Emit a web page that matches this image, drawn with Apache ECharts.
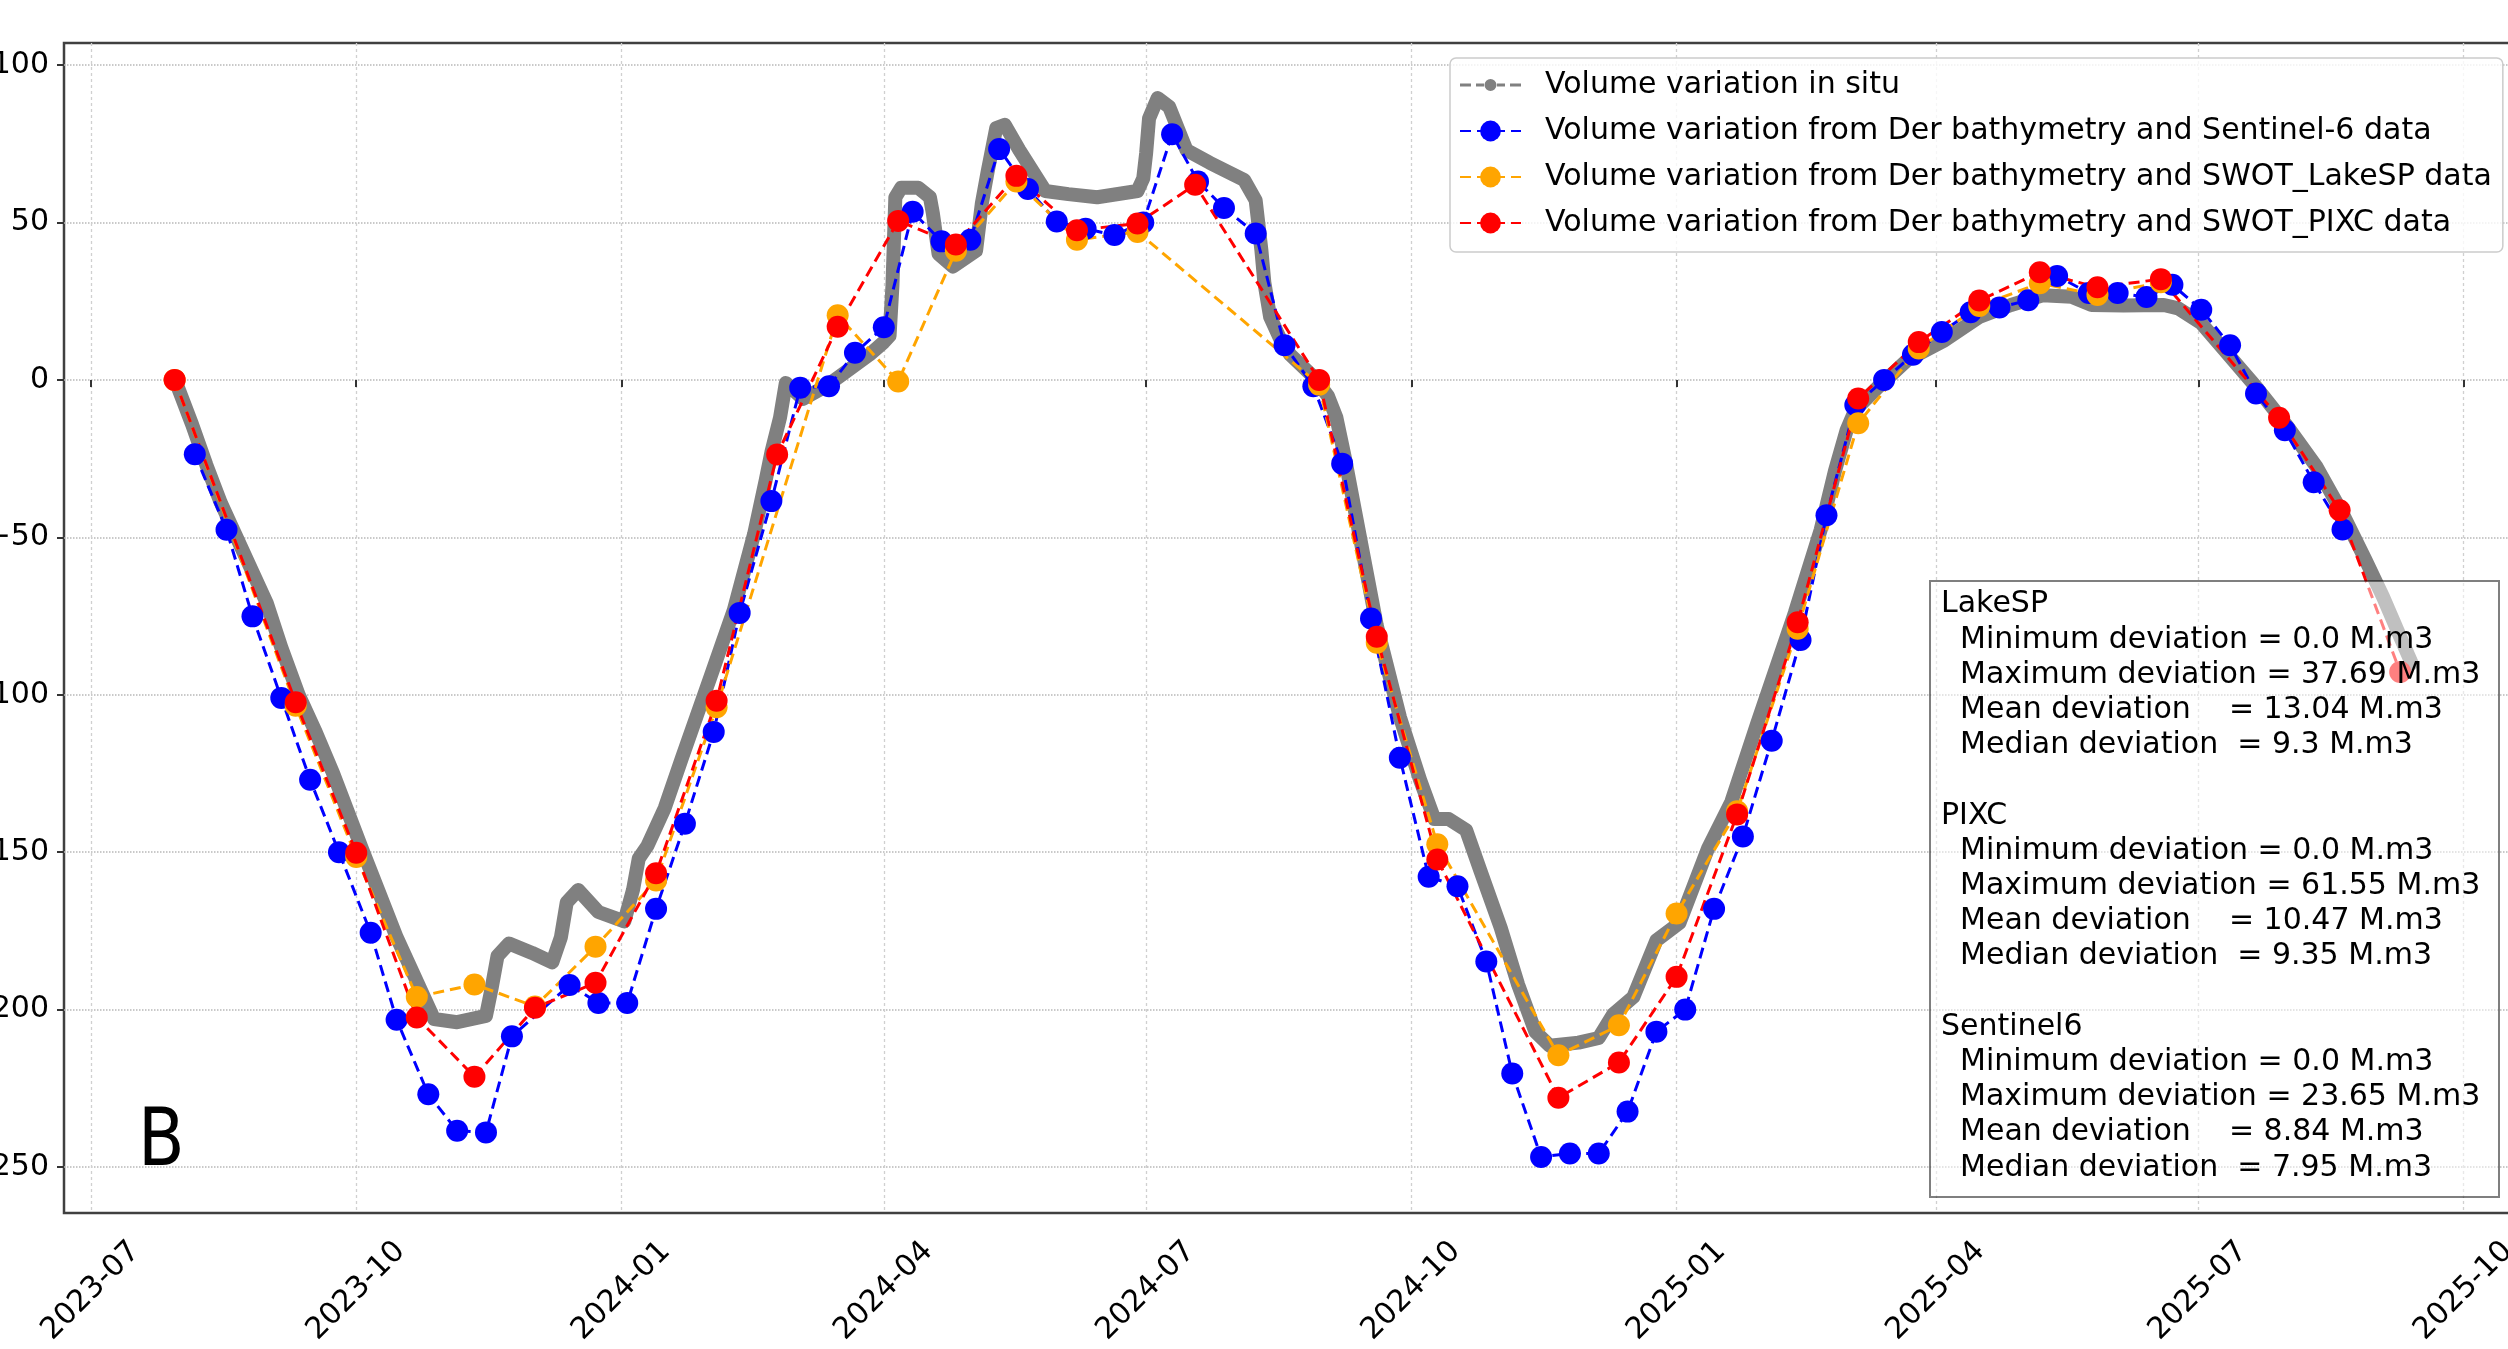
<!DOCTYPE html>
<html>
<head>
<meta charset="utf-8">
<title>Volume variation</title>
<script src="https://cdn.jsdelivr.net/npm/echarts@6/dist/echarts.min.js"></script>
<style>
html, body { margin: 0; padding: 0; background: #fff; }
#chart { width: 2508px; height: 1349px; }
</style>
</head>
<body>
<div id="chart"></div>
<script>
// series names
const insituName = 'Volume variation in situ'
const s6Name = 'Volume variation from Der bathymetry and Sentinel-6 data'
const lakeName = 'Volume variation from Der bathymetry and SWOT_LakeSP data'
const pixcName = 'Volume variation from Der bathymetry and SWOT_PIXC data'

// in situ volume variation (M.m3)
const insituDates = [
  '2023-07-31', '2023-08-05', '2023-08-10', '2023-08-15', '2023-08-20', '2023-08-25', '2023-08-31',
  '2023-09-05', '2023-09-11', '2023-09-17', '2023-09-23', '2023-09-28', '2023-10-03', '2023-10-09',
  '2023-10-15', '2023-10-20', '2023-10-24', '2023-10-28', '2023-11-05', '2023-11-15', '2023-11-17',
  '2023-11-19', '2023-11-23', '2023-12-01', '2023-12-08', '2023-12-11', '2023-12-13', '2023-12-17',
  '2023-12-24', '2024-01-02', '2024-01-05', '2024-01-07', '2024-01-10', '2024-01-16', '2024-01-22',
  '2024-01-27', '2024-02-01', '2024-02-09', '2024-02-16', '2024-02-20', '2024-02-22', '2024-02-25',
  '2024-02-27', '2024-03-04', '2024-03-12', '2024-03-18', '2024-03-27', '2024-04-01', '2024-04-03',
  '2024-04-04', '2024-04-05', '2024-04-07', '2024-04-13', '2024-04-17', '2024-04-18', '2024-04-20',
  '2024-04-25', '2024-05-03', '2024-05-05', '2024-05-07', '2024-05-10', '2024-05-13', '2024-05-18',
  '2024-05-27', '2024-06-04', '2024-06-14', '2024-06-28', '2024-06-30', '2024-07-01', '2024-07-02',
  '2024-07-05', '2024-07-09', '2024-07-15', '2024-07-23', '2024-08-04', '2024-08-08', '2024-08-10',
  '2024-08-11', '2024-08-13', '2024-08-17', '2024-08-20', '2024-08-28', '2024-09-02', '2024-09-05',
  '2024-09-08', '2024-09-14', '2024-09-19', '2024-09-27', '2024-10-04', '2024-10-09', '2024-10-14',
  '2024-10-20', '2024-10-25', '2024-11-01', '2024-11-07', '2024-11-13', '2024-11-18', '2024-11-28',
  '2024-12-05', '2024-12-10', '2024-12-17', '2024-12-25', '2025-01-02', '2025-01-12', '2025-01-20',
  '2025-01-29', '2025-02-11', '2025-02-20', '2025-02-25', '2025-03-01', '2025-03-04', '2025-03-12',
  '2025-03-22', '2025-04-04', '2025-04-16', '2025-04-27', '2025-05-08', '2025-05-18', '2025-05-25',
  '2025-06-05', '2025-06-19', '2025-06-24', '2025-07-02', '2025-07-10', '2025-07-21', '2025-08-01',
  '2025-08-11', '2025-08-20', '2025-08-28', '2025-09-03', '2025-09-09', '2025-09-13'
]
const insituValues = [
  -2, -14, -27, -39, -49, -59, -71,
  -85, -100, -112, -125, -137, -149, -163,
  -177, -187, -195, -203, -204, -202, -193,
  -183, -179, -182, -185, -177, -166, -162,
  -169, -172, -162, -152, -148, -136, -120,
  -107, -94, -73, -49, -32, -23, -12,
  -1, -6, -2, 2, 8, 12, 14,
  30, 58, 61, 61, 58, 53, 40,
  36, 41, 56, 66, 80, 81, 73,
  60, 59, 58, 60, 64, 72, 83,
  89.5, 86.7, 73, 69, 63.5, 57, 41,
  31, 20, 12, 8, 1, -5, -12,
  -25, -54, -78, -107, -127, -139.5, -139.5,
  -143, -156, -174, -192, -207, -211.5, -210.5,
  -209, -201.5, -196, -178, -172.5, -148.6, -134,
  -109, -74, -47.6, -28.7, -15.9, -9.5, -2.2,
  6.3, 12.6, 20, 23.8, 26.9, 26.4, 23.8,
  23.6, 23.8, 22.7, 18, 9.5, -2.2, -14.9,
  -27.6, -42.4, -57.2, -68.8, -81.6, -90
]

// Sentinel-6
const s6Dates = [
  '2023-08-06', '2023-08-17', '2023-08-26', '2023-09-05', '2023-09-15', '2023-09-25', '2023-10-06',
  '2023-10-15', '2023-10-26', '2023-11-05', '2023-11-15', '2023-11-24', '2023-12-14', '2023-12-24',
  '2024-01-03', '2024-01-13', '2024-01-23', '2024-02-02', '2024-02-11', '2024-02-22', '2024-03-03',
  '2024-03-13', '2024-03-22', '2024-04-01', '2024-04-11', '2024-04-21', '2024-05-01', '2024-05-11',
  '2024-05-21', '2024-05-31', '2024-06-10', '2024-06-20', '2024-06-30', '2024-07-10', '2024-07-19',
  '2024-07-28', '2024-08-08', '2024-08-18', '2024-08-28', '2024-09-07', '2024-09-17', '2024-09-27',
  '2024-10-07', '2024-10-17', '2024-10-27', '2024-11-05', '2024-11-15', '2024-11-25', '2024-12-05',
  '2024-12-15', '2024-12-25', '2025-01-04', '2025-01-14', '2025-01-24', '2025-02-03', '2025-02-13',
  '2025-02-22', '2025-03-04', '2025-03-14', '2025-03-24', '2025-04-03', '2025-04-13', '2025-04-23',
  '2025-05-03', '2025-05-13', '2025-05-24', '2025-06-03', '2025-06-13', '2025-06-22', '2025-07-02',
  '2025-07-12', '2025-07-21', '2025-07-31', '2025-08-10', '2025-08-20'
]
const s6Values = [
  -23.6, -47.6, -75.1, -101, -127, -150, -175.6,
  -203.2, -226.9, -238.5, -239, -208.5, -192.2, -197.9,
  -197.9, -168, -141, -111.8, -74, -38.5, -2.5,
  -2, 8.6, 16.7, 53.4, 44, 44.5, 73.3,
  60.6, 50.3, 48, 46, 50, 78, 63,
  54.6, 46.5, 11, -2, -26.6, -75.8, -120,
  -157.8, -160.8, -184.7, -220.3, -246.8, -245.7, -245.7,
  -232.4, -207, -200, -168, -145, -114.6, -82.6,
  -43, -8, 0, 8, 15.2, 21.5, 23,
  25.3, 33, 27.6, 27.6, 26.3, 30.2, 22.3,
  11, -4.3, -16, -32.5, -47.5
]

// SWOT LakeSP
const lakeDates = [
  '2023-07-30', '2023-09-10', '2023-10-01', '2023-10-22', '2023-11-11', '2023-12-02', '2023-12-23',
  '2024-01-13', '2024-02-03', '2024-03-16', '2024-04-06', '2024-04-26', '2024-05-17', '2024-06-07',
  '2024-06-28', '2024-08-30', '2024-09-19', '2024-10-10', '2024-11-21', '2024-12-12', '2025-01-01',
  '2025-01-22', '2025-02-12', '2025-03-05', '2025-03-26', '2025-04-16', '2025-05-07', '2025-05-27',
  '2025-06-18'
]
const lakeValues = [
  0, -103.5, -151.5, -196, -192, -199, -180,
  -159, -104, 20.5, -0.5, 41, 63, 44.5,
  47, -1.5, -83.5, -147.5, -214.5, -205, -169.5,
  -137, -79, -13.8, 10, 23.5, 30.7, 27,
  31
]

// SWOT PIXC
const pixcDates = [
  '2023-07-30', '2023-09-10', '2023-10-01', '2023-10-22', '2023-11-11', '2023-12-02', '2023-12-23',
  '2024-01-13', '2024-02-03', '2024-02-24', '2024-03-16', '2024-04-06', '2024-04-26', '2024-05-17',
  '2024-06-07', '2024-06-28', '2024-07-18', '2024-08-30', '2024-09-19', '2024-10-10', '2024-11-21',
  '2024-12-12', '2025-01-01', '2025-01-22', '2025-02-12', '2025-03-05', '2025-03-26', '2025-04-16',
  '2025-05-07', '2025-05-27', '2025-06-18', '2025-07-29', '2025-08-19', '2025-09-09'
]
const pixcValues = [
  0, -102.4, -150.2, -202.5, -221.3, -199.4, -191.5,
  -156.7, -101.9, -23.7, 16.9, 50.5, 43, 64.8,
  47.5, 49.7, 62, 0, -81.6, -152.3, -228,
  -216.8, -189.6, -138, -77, -5.9, 12, 25.2,
  34.2, 29.4, 32, -12, -41.4, -92.8
]

// axes
const xTickLabels = ['2023-07', '2023-10', '2024-01', '2024-04', '2024-07', '2024-10', '2025-01', '2025-04', '2025-07', '2025-10']
const yTickValues = [-250, -200, -150, -100, -50, 0, 50, 100]

// deviation statistics box
const statsLines = [
  'LakeSP',
  '  Minimum deviation = 0.0 M.m3',
  '  Maximum deviation = 37.69 M.m3',
  '  Mean deviation    = 13.04 M.m3',
  '  Median deviation  = 9.3 M.m3',
  '',
  'PIXC',
  '  Minimum deviation = 0.0 M.m3',
  '  Maximum deviation = 61.55 M.m3',
  '  Mean deviation    = 10.47 M.m3',
  '  Median deviation  = 9.35 M.m3',
  '',
  'Sentinel6',
  '  Minimum deviation = 0.0 M.m3',
  '  Maximum deviation = 23.65 M.m3',
  '  Mean deviation    = 8.84 M.m3',
  '  Median deviation  = 7.95 M.m3'
]

const FONT = 'DejaVu Sans'
const toTime = (s) => echarts.time.parse(s)
const zip = (d, v) => d.map((x, i) => [toTime(x), v[i]])
const xTickValues = xTickLabels.map(l => toTime(l + '-01'))

const dashed = (color) => ({
  type: 'line',
  symbol: 'circle',
  symbolSize: 22,
  showAllSymbol: true,
  itemStyle: { color: color },
  lineStyle: { color: color, width: 3, type: [11, 6] },
  emphasis: { disabled: true }
})

const chart = echarts.init(document.getElementById('chart'), null, { renderer: 'canvas' })

chart.setOption({
  animation: false,
  textStyle: { fontFamily: FONT },
  grid: {
    left: 64,
    top: 43,
    width: 2448,
    height: 1170,
    outerBoundsMode: 'none',
    containLabel: false,
    show: true,
    borderColor: '#404040',
    borderWidth: 2.5
  },
  legend: {
    orient: 'vertical',
    left: 1450,
    top: 58,
    padding: [12, 11, 14, 9],
    itemWidth: 61,
    itemHeight: 26,
    itemGap: 16,
    backgroundColor: 'rgba(255,255,255,0.8)',
    borderColor: '#cccccc',
    borderWidth: 1.5,
    borderRadius: 6,
    z: 50,
    textStyle: { fontSize: 30, fontFamily: FONT, color: '#000', lineHeight: 26, padding: [0, 0, 0, 19] },
    data: [
      {
        name: insituName,
        icon: 'path://M0,0h0.01v0.01h-0.01z M60.99,25.99h0.01v0.01h-0.01z M0,11.5h11v3h-11z M16,11.5h8v3h-8z M37,11.5h8v3h-8z M50,11.5h11v3h-11z M24.5,13a6,6 0 1,0 12,0a6,6 0 1,0 -12,0z'
      },
      { name: s6Name },
      { name: lakeName },
      { name: pixcName }
    ]
  },
  xAxis: {
    type: 'value',
    min: toTime('2023-06-21T15:00:00'),
    max: toTime('2025-10-17T19:00:00'),
    axisLine: { show: false },
    axisTick: {
      show: true,
      customValues: xTickValues,
      length: 7,
      lineStyle: { color: '#333', width: 2 }
    },
    axisLabel: {
      customValues: xTickValues,
      formatter: (val) => echarts.time.format(val, '{yyyy}-{MM}', false),
      rotate: 45,
      align: 'center',
      verticalAlign: 'middle',
      margin: 78,
      fontSize: 30,
      fontFamily: FONT,
      color: '#000'
    },
    splitLine: {
      show: true,
      lineStyle: { color: '#d0d0d0', width: 1.3, type: [3, 3] }
    }
  },
  yAxis: {
    type: 'value',
    min: -264.6,
    max: 107,
    axisLine: { show: false },
    axisTick: {
      show: true,
      customValues: yTickValues,
      length: 7,
      lineStyle: { color: '#333', width: 2 }
    },
    axisLabel: {
      customValues: yTickValues,
      formatter: (v) => (v < 0 ? '\u2212' + Math.abs(v) : String(v)),
      margin: 15,
      fontSize: 30,
      fontFamily: FONT,
      color: '#000'
    },
    splitLine: {
      show: true,
      lineStyle: { color: '#b8b8b8', width: 1.5, type: 'dotted' }
    }
  },
  series: [
    {
      name: insituName,
      type: 'line',
      symbol: 'circle',
      showSymbol: false,
      itemStyle: { color: '#808080' },
      lineStyle: { color: '#808080', width: 14, cap: 'round', join: 'round' },
      emphasis: { disabled: true },
      data: zip(insituDates, insituValues)
    },
    Object.assign(dashed('#0000ff'), { name: s6Name, data: zip(s6Dates, s6Values) }),
    Object.assign(dashed('#ffa500'), { name: lakeName, data: zip(lakeDates, lakeValues) }),
    Object.assign(dashed('#ff0000'), { name: pixcName, data: zip(pixcDates, pixcValues) })
  ],
  graphic: [
    {
      type: 'text',
      x: 138,
      y: 1144,
      scaleX: 0.85,
      z: 60,
      style: {
        text: 'B',
        font: '80px "DejaVu Sans"',
        fill: '#000',
        verticalAlign: 'middle'
      }
    },
    {
      type: 'rect',
      z: 100,
      shape: { x: 1930, y: 581, width: 569, height: 616 },
      style: { fill: 'rgba(255,255,255,0.5)', stroke: 'rgba(0,0,0,0.5)', lineWidth: 2 }
    },
    {
      type: 'text',
      x: 1941,
      y: 587,
      z: 101,
      style: {
        text: statsLines.join('\n'),
        font: '30px "DejaVu Sans"',
        lineHeight: 35.2,
        fill: '#000',
        verticalAlign: 'top'
      }
    }
  ]
})
</script>
</body>
</html>
